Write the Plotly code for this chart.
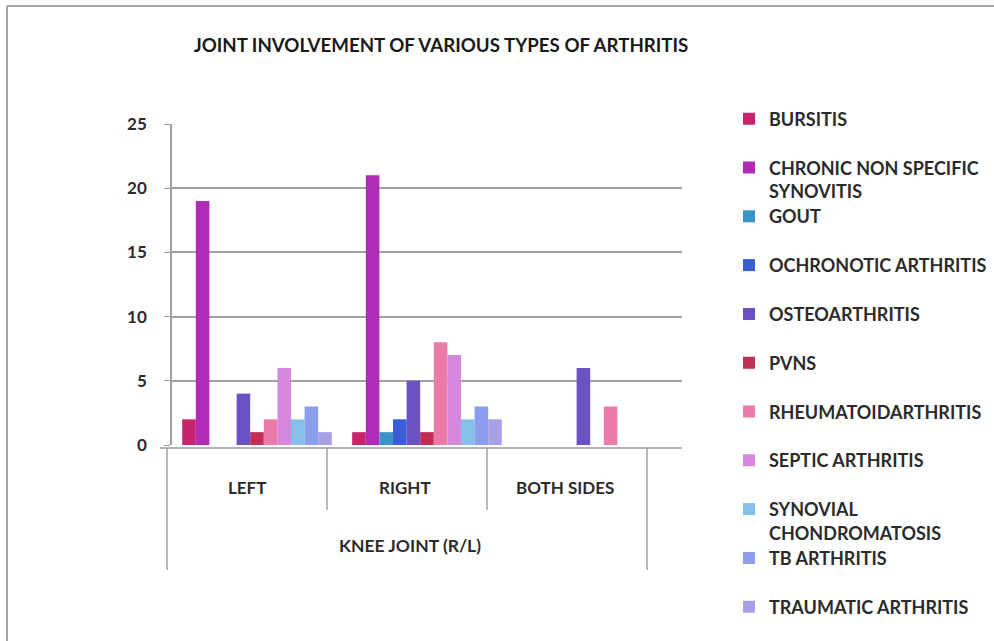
import plotly.graph_objects as go

categories = ["LEFT", "RIGHT", "BOTH SIDES"]
group_label = "KNEE JOINT (R/L)"

series_names = [
    "BURSITIS",
    "CHRONIC NON SPECIFIC<br>SYNOVITIS",
    "GOUT",
    "OCHRONOTIC ARTHRITIS",
    "OSTEOARTHRITIS",
    "PVNS",
    "RHEUMATOIDARTHRITIS",
    "SEPTIC ARTHRITIS",
    "SYNOVIAL<br>CHONDROMATOSIS",
    "TB ARTHRITIS",
    "TRAUMATIC ARTHRITIS",
]

bursitis = [2, 1, 0]
chronic_nonspecific_synovitis = [19, 21, 0]
gout = [0, 1, 0]
ochronotic_arthritis = [0, 2, 0]
osteoarthritis = [4, 5, 6]
pvns = [1, 1, 0]
rheumatoid_arthritis = [2, 8, 3]
septic_arthritis = [6, 7, 0]
synovial_chondromatosis = [2, 2, 0]
tb_arthritis = [3, 3, 0]
traumatic_arthritis = [1, 2, 0]

series_values = [
    bursitis, chronic_nonspecific_synovitis, gout, ochronotic_arthritis,
    osteoarthritis, pvns, rheumatoid_arthritis, septic_arthritis,
    synovial_chondromatosis, tb_arthritis, traumatic_arthritis,
]

colors = [
    "#c8246e", "#b02cb6", "#3a94c8", "#3a5cd6", "#6a52c2", "#c22e54",
    "#ea7aa8", "#d888dc", "#86c0ea", "#8a9eec", "#a8a0e4",
]

y_ticks = [0, 5, 10, 15, 20, 25]

# layout geometry (pixels)
W, H = 994, 641
L, R, T, B = 172, 682, 124, 445
PW, PH = R - L, B - T


def px(p):
    return (p - L) / PW


def py(q):
    return (B - q) / PH


FONT = "Lato"
TXT = "#2b2b2b"

fig = go.Figure()
for i, (name, vals, col) in enumerate(zip(series_names, series_values, colors)):
    leg = "legend" if i == 0 else f"legend{i + 1}"
    fig.add_trace(go.Bar(
        x=categories, y=vals, name=name, marker_color=col,
        marker_line_width=0, legend=leg,
        hovertemplate=name.replace("<br>", " ") + ": %{y}<extra></extra>",
    ))

layout_legends = {}
for i in range(len(series_names)):
    key = "legend" if i == 0 else f"legend{i + 1}"
    ycenter = 116.5 + i * 48.8
    layout_legends[key] = dict(
        x=px(729), y=py(ycenter - 16), xanchor="left", yanchor="top",
        bgcolor="rgba(0,0,0,0)", borderwidth=0, valign="top",
        font=dict(family=FONT, size=18, color=TXT, weight="bold"),
        itemclick=False, itemdoubleclick=False,
    )

shapes = []
# outer chart border (only top & left edges fall inside the picture)
border = dict(color="#a6a6a6", width=2)
shapes.append(dict(type="line", xref="paper", yref="paper",
                   x0=px(7), x1=px(W + 20), y0=py(6), y1=py(6),
                   line=border, layer="below"))
shapes.append(dict(type="line", xref="paper", yref="paper",
                   x0=px(7), x1=px(7), y0=py(6), y1=py(H + 20),
                   line=border, layer="below"))
# front category table lines
front_y = 448
for xp, bottom in [(167, 570), (327, 510), (487, 510), (647, 570)]:
    shapes.append(dict(type="line", xref="paper", yref="paper",
                       x0=px(xp), x1=px(xp), y0=py(front_y), y1=py(bottom),
                       line=dict(color="#8c8c8c", width=1.2)))
shapes.append(dict(type="line", xref="paper", yref="paper",
                   x0=px(160), x1=px(682), y0=py(front_y), y1=py(front_y),
                   line=dict(color="#9a9a9a", width=1.5)))

annotations = []
for cat, xc in zip(categories, [247, 405, 565]):
    annotations.append(dict(text=cat, xref="paper", yref="paper",
                            x=px(xc), y=py(487), showarrow=False,
                            xanchor="center", yanchor="middle",
                            font=dict(family=FONT, size=17, color=TXT, weight="bold")))
annotations.append(dict(text=group_label, xref="paper", yref="paper",
                        x=px(410), y=py(545), showarrow=False,
                        xanchor="center", yanchor="middle",
                        font=dict(family=FONT, size=17.5, color=TXT, weight="bold")))

fig.update_layout(
    width=W, height=H,
    margin=dict(l=L, r=W - R, t=T, b=H - B, pad=0, autoexpand=False),
    paper_bgcolor="white", plot_bgcolor="white",
    title=dict(text="JOINT INVOLVEMENT OF VARIOUS TYPES OF ARTHRITIS",
               x=441 / W, xanchor="center", y=1 - 45 / H, yanchor="middle",
               font=dict(family=FONT, size=18.7, color="#1a1a1a", weight="bold")),
    barmode="group", bargap=0.12, bargroupgap=0.0,
    xaxis=dict(categoryorder="array", categoryarray=categories,
               showticklabels=False, showgrid=False, zeroline=False,
               showline=False, ticks="", fixedrange=True),
    yaxis=dict(range=[0, 25], tickvals=y_ticks, showgrid=True,
               gridcolor="#a0a0a0", gridwidth=1.5, zeroline=False,
               showline=True, linecolor="#a0a0a0", linewidth=1.5,
               ticks="outside", ticklen=6, tickcolor="#a0a0a0",
               ticklabelstandoff=14,
               tickfont=dict(family=FONT, size=17, color=TXT, weight="bold"),
               fixedrange=True),
    shapes=shapes, annotations=annotations,
    showlegend=True,
    **layout_legends,
)

fig.write_html("out.html")
